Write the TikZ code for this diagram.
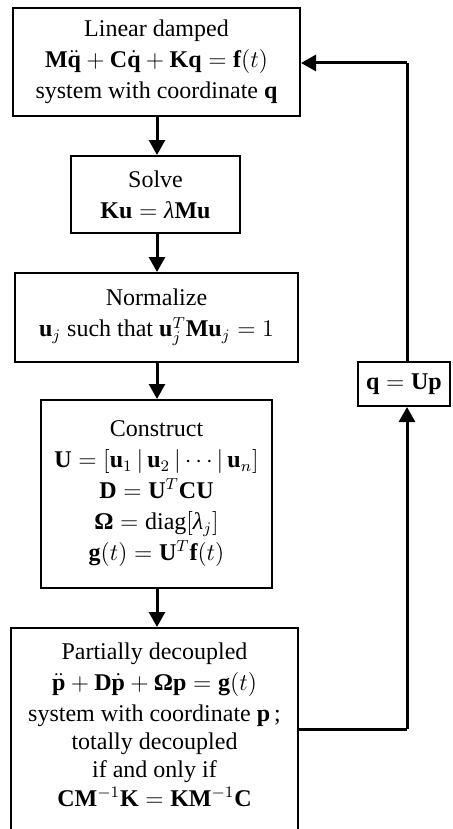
\documentclass[tikz,border=0pt]{standalone}
\usepackage{amsmath}
\usepackage{fontspec}
\setmainfont{Liberation Serif}
\usetikzlibrary{arrows.meta}
\tikzset{
  boxnode/.style={draw, line width=1pt, align=center, inner sep=0pt,
    font=\fontsize{12}{15.5}\selectfont},
  txtnode/.style={align=center, inner sep=0pt, font=\fontsize{12}{15.5}\selectfont},
  conn/.style={line width=1.5pt},
  arr/.style={line width=1.5pt, -{Triangle[length=7.5pt,width=8pt]}}
}
\begin{document}
\begin{tikzpicture}[x=0.5pt,y=-0.5pt]
\clip (0,0) rectangle (452,829);
\node[boxnode, minimum width=143.5pt, minimum height=54pt] (b1) at (156.5,62)
  {Linear damped\\ $\textbf{M}\ddot{\textbf{q}}+\textbf{C}\dot{\textbf{q}}+\textbf{K}\textbf{q}=\textbf{f}(t)$\\ system with coordinate $\textbf{q}$};
\node[boxnode, minimum width=84.5pt, minimum height=38.5pt] (b2) at (155.5,194.5)
  {Solve\\ $\textbf{Ku}=\textit{λ}\textbf{Mu}$};
\node[boxnode, minimum width=141.5pt, minimum height=44.5pt] (b3) at (156.5,317.5)
  {Normalize\\ $\textbf{u}_{j}$ such that $\textbf{u}_{j}^{T}\textbf{Mu}_{j}=1$};
\node[boxnode, minimum width=115.5pt, minimum height=94pt] (b4) at (156.5,494)
  {Construct\\ $\textbf{U}=[\textbf{u}_1\,|\,\textbf{u}_2\,|\cdots|\,\textbf{u}_n]$\\
   $\textbf{D}=\textbf{U}^{T}\textbf{CU}$\\
   $\textbf{Ω}=\text{diag}[\textit{λ}_j]$\\
   $\textbf{g}(t)=\textbf{U}^{T}\textbf{f}(t)$};
\node[boxnode, minimum width=143.5pt, minimum height=110pt] (b5) at (154.5,738) {};
\node[txtnode] (t5) at (154.5,725)
  {Partially decoupled\\
   $\ddot{\textbf{p}}+\textbf{D}\dot{\textbf{p}}+\textbf{Ωp}=\textbf{g}(t)$\\
   system with coordinate $\textbf{p}$\,;\\[-1.5pt]
   totally decoupled\\[-1.5pt]
   if and only if\\[-1pt]
   $\textbf{CM}^{-1}\textbf{K}=\textbf{KM}^{-1}\textbf{C}$};
\node[boxnode, minimum width=46pt, minimum height=22pt] (q) at (404,384) {$\textbf{q}=\textbf{Up}$};
\coordinate (r1) at (407,729);
\coordinate (r2) at (407,63);
\draw[arr] (b1.south -| 157,0) -- (b2.north -| 157,0);
\draw[arr] (b2.south -| 157,0) -- (b3.north -| 157,0);
\draw[arr] (b3.south -| 157,0) -- (b4.north -| 157,0);
\draw[arr] (b4.south -| 157,0) -- (b5.north -| 157,0);
\draw[conn] (b5.east |- r1) -- (r1);
\draw[arr] (r1) -- (r1 |- q.south);
\draw[conn] (r1 |- q.north) -- (r2);
\draw[arr] (r2) -- (b1.east |- r2);
\end{tikzpicture}
\end{document}
